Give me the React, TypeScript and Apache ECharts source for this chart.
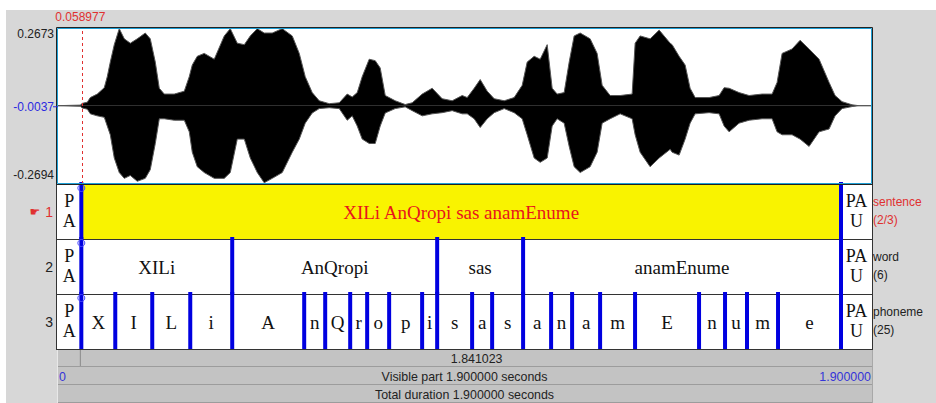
import React, { useEffect, useRef } from "react";
import * as echarts from "echarts";

const TOTAL = 1.9;
const CURSOR = 0.058977;
const AMP_MIN = -0.2694;
const AMP_MAX = 0.2673;
const AMP_TICKS = [0.2673, -0.0037, -0.2694];
const AMP_TICK_LABELS = ["0.2673", "-0.0037", "-0.2694"];

// waveform envelope (seconds, upper amplitude, lower amplitude)
const envTime = [
  0, 0.0566, 0.0613, 0.0729, 0.0799, 0.0961, 0.1124, 0.1194, 0.1264, 0.1357, 0.1473, 0.159, 0.173, 0.1892,
  0.2079, 0.2195, 0.2312, 0.2405, 0.2521, 0.2754, 0.2987, 0.3103, 0.3173, 0.3289, 0.3452, 0.3685, 0.3918,
  0.4058, 0.4221, 0.4384, 0.4524, 0.4687, 0.4848, 0.5035, 0.5268, 0.5501, 0.5664, 0.5803, 0.5966, 0.6129,
  0.6362, 0.6595, 0.6781, 0.6897, 0.7014, 0.713, 0.7293, 0.7433, 0.7549, 0.7666, 0.7898, 0.8131, 0.8294,
  0.8527, 0.8759, 0.8992, 0.9225, 0.9458, 0.9575, 0.9737, 0.9877, 1.004, 1.0203, 1.0436, 1.0668, 1.0855,
  1.0971, 1.1134, 1.1274, 1.1437, 1.1553, 1.1669, 1.1832, 1.1949, 1.2065, 1.2205, 1.2437, 1.26, 1.2717,
  1.2903, 1.3136, 1.3415, 1.3485, 1.3601, 1.3834, 1.4044, 1.43, 1.4346, 1.4509, 1.4649, 1.4765, 1.4882,
  1.5208, 1.544, 1.5557, 1.5673, 1.5906, 1.6139, 1.6441, 1.6674, 1.679, 1.6907, 1.7139, 1.7326, 1.7535,
  1.7768, 1.8001, 1.814, 1.8303, 1.8536, 1.8699, 1.9,
];
const envUpper = [
  0, 0.002, 0.008, 0.012, 0.028, 0.04, 0.062, 0.1, 0.15, 0.21, 0.265, 0.23, 0.215, 0.23,
  0.25, 0.23, 0.15, 0.06, 0.04, 0.04, 0.05, 0.1, 0.14, 0.17, 0.18, 0.16, 0.24,
  0.265, 0.215, 0.21, 0.24, 0.265, 0.25, 0.25, 0.265, 0.24, 0.18, 0.1, 0.045, 0.017,
  0.007, 0.01, 0.04, 0.03, 0.045, 0.1, 0.16, 0.155, 0.13, 0.035, 0.017, 0.004, 0.01,
  0.04, 0.06, 0.024, 0.017, 0.035, 0.028, 0.06, 0.09, 0.05, 0.024, 0.017, 0.028, 0.07,
  0.15, 0.17, 0.16, 0.21, 0.06, 0.04, 0.045, 0.15, 0.24, 0.25, 0.23, 0.18, 0.07,
  0.035, 0.035, 0.04, 0.215, 0.24, 0.23, 0.26, 0.215, 0.21, 0.17, 0.14, 0.06, 0.028,
  0.028, 0.035, 0.062, 0.06, 0.045, 0.035, 0.04, 0.04, 0.08, 0.18, 0.195, 0.225, 0.195,
  0.16, 0.08, 0.035, 0.014, 0.003, 0, 0,
];
const envLower = [
  0, -0.002, -0.008, -0.012, -0.028, -0.035, -0.04, -0.07, -0.1, -0.18, -0.23, -0.25, -0.24, -0.26,
  -0.25, -0.22, -0.13, -0.045, -0.045, -0.05, -0.05, -0.09, -0.16, -0.21, -0.23, -0.25, -0.25,
  -0.23, -0.115, -0.115, -0.18, -0.23, -0.265, -0.25, -0.23, -0.16, -0.115, -0.06, -0.025, -0.01,
  -0.007, -0.01, -0.05, -0.035, -0.07, -0.115, -0.13, -0.13, -0.07, -0.025, -0.01, -0.004, -0.017,
  -0.035, -0.028, -0.024, -0.017, -0.028, -0.028, -0.045, -0.075, -0.045, -0.024, -0.01, -0.024, -0.045,
  -0.1, -0.18, -0.195, -0.18, -0.07, -0.045, -0.06, -0.14, -0.21, -0.23, -0.21, -0.16, -0.06,
  -0.045, -0.028, -0.045, -0.1, -0.16, -0.21, -0.18, -0.15, -0.16, -0.17, -0.115, -0.06, -0.028,
  -0.024, -0.028, -0.07, -0.09, -0.06, -0.05, -0.045, -0.045, -0.09, -0.1, -0.1, -0.115, -0.14,
  -0.09, -0.08, -0.035, -0.01, -0.003, 0, 0,
];

const tierNames = ["sentence", "word", "phoneme"];
const tierNumbers = ["1", "2", "3"];
const sentenceBounds = [0, 0.058977, 1.8278, 1.9];
const sentenceLabels = ["PAU", "XILi AnQropi sas anamEnume", "PAU"];
const wordBounds = [0, 0.058977, 0.4103, 0.8875, 1.0876, 1.8278, 1.9];
const wordLabels = ["PAU", "XILi", "AnQropi", "sas", "anamEnume", "PAU"];
const phonemeBounds = [
  0, 0.058977, 0.138, 0.2241, 0.3126, 0.4103, 0.5779, 0.6268, 0.685, 0.7245, 0.7757, 0.8525, 0.8875,
  0.9689, 1.0155, 1.0876, 1.1528, 1.2017, 1.2669, 1.3483, 1.4973, 1.5578, 1.609, 1.6812, 1.8278, 1.9,
];
const phonemeLabels = [
  "PAU", "X", "I", "L", "i", "A", "n", "Q", "r", "o", "p", "i", "s", "a", "s", "a", "n", "a", "m", "E",
  "n", "u", "m", "e", "PAU",
];
const SELECTED_TIER = 0;
const SELECTED_INTERVAL = 1;

const SANS = "'Liberation Sans', Arial, sans-serif";
const SERIF = "'Liberation Serif', 'Times New Roman', serif";
const LABEL_SIZE = 19;

const L = 57;
const R = 872;

let measureCtx: CanvasRenderingContext2D | null = null;
function textW(s: string): number {
  if (!measureCtx) measureCtx = document.createElement("canvas").getContext("2d");
  measureCtx!.font = `${LABEL_SIZE}px 'Liberation Serif'`;
  return measureCtx!.measureText(s).width;
}
function wrap(s: string, avail: number): string[] {
  if (textW(s) <= avail) return [s];
  const lines: string[] = [];
  let cur = "";
  for (const ch of s) {
    if (cur && textW(cur + ch) > avail) {
      lines.push(cur);
      cur = ch;
    } else cur += ch;
  }
  if (cur) lines.push(cur);
  return lines.slice(0, 2);
}

export default function App() {
  const ref = useRef<HTMLDivElement>(null);
  useEffect(() => {
    document.body.style.margin = "0";
    const chart = echarts.init(ref.current!, undefined, { renderer: "svg" });

    const tiers = [
      { bounds: sentenceBounds, labels: sentenceLabels },
      { bounds: wordBounds, labels: wordLabels },
      { bounds: phonemeBounds, labels: phonemeLabels },
    ];
    const intervalData: number[][] = [];
    const boundaryData: number[][] = [];
    tiers.forEach((tr, ti) => {
      tr.labels.forEach((_, i) => intervalData.push([tr.bounds[i], tr.bounds[i + 1], ti, i]));
      tr.bounds.slice(1, -1).forEach((b) => boundaryData.push([b, ti]));
    });

    const option: any = {
      animation: false,
      grid: [
        { left: 56, top: 28, width: 816, height: 156 },
        { left: 56, top: 184, width: 816, height: 165 },
      ],
      xAxis: [
        { gridIndex: 0, type: "value", min: 0, max: TOTAL, show: false },
        { gridIndex: 1, type: "value", min: 0, max: TOTAL, show: false },
      ],
      yAxis: [
        { gridIndex: 0, type: "value", min: AMP_MIN, max: AMP_MAX, show: false },
        { gridIndex: 1, type: "value", min: 0, max: 3, inverse: true, show: false },
      ],
      series: [
        {
          type: "line",
          xAxisIndex: 0,
          yAxisIndex: 0,
          data: envTime.map((t, i) => [t, envUpper[i]]),
          showSymbol: false,
          silent: true,
          lineStyle: { color: "#555", width: 1 },
          areaStyle: { color: "#000", opacity: 1 },
          z: 2,
          markLine: {
            silent: true,
            symbol: ["none", "none"],
            label: { show: false },
            lineStyle: { color: "#e03030", type: [3, 3], width: 1 },
            data: [{ xAxis: CURSOR }],
          },
        },
        {
          type: "line",
          xAxisIndex: 0,
          yAxisIndex: 0,
          data: envTime.map((t, i) => [t, envLower[i]]),
          showSymbol: false,
          silent: true,
          lineStyle: { color: "#555", width: 1 },
          areaStyle: { color: "#000", opacity: 1 },
          z: 2,
        },
        {
          type: "custom",
          xAxisIndex: 1,
          yAxisIndex: 1,
          data: intervalData,
          silent: true,
          z: 3,
          renderItem: (params: any, api: any) => {
            const s = api.value(0);
            const e = api.value(1);
            const tier = api.value(2);
            const idx = api.value(3);
            const p0 = api.coord([s, tier]);
            const p1 = api.coord([e, tier + 1]);
            const x0 = Math.max(p0[0], L);
            const x1 = Math.min(p1[0], R);
            const sel = tier === SELECTED_TIER && idx === SELECTED_INTERVAL;
            const label = tiers[tier].labels[idx];
            const lines = wrap(label, x1 - x0 - 4);
            const multi = lines.length > 1;
            const cx = (x0 + x1) / 2;
            const cy = (p0[1] + p1[1]) / 2;
            const children: any[] = [];
            if (sel) {
              children.push({
                type: "rect",
                shape: { x: x0, y: p0[1] + 1, width: x1 - x0, height: p1[1] - p0[1] - 1 },
                style: { fill: "#f9f300" },
              });
            }
            children.push({
              type: "text",
              style: {
                text: lines.join("\n"),
                x: cx,
                y: cy - (multi ? 1 : -0.5),
                align: "center",
                verticalAlign: "middle",
                lineHeight: multi ? 20 : 20,
                fill: sel ? "#e8141c" : "#111",
                fontSize: multi ? 18 : LABEL_SIZE,
                fontFamily: SERIF,
              },
            });
            return { type: "group", children };
          },
        },
        {
          type: "custom",
          xAxisIndex: 1,
          yAxisIndex: 1,
          data: boundaryData,
          silent: true,
          z: 4,
          renderItem: (params: any, api: any) => {
            const t = api.value(0);
            const tier = api.value(1);
            const p0 = api.coord([t, tier]);
            const p1 = api.coord([t, tier + 1]);
            const children: any[] = [
              {
                type: "line",
                shape: { x1: p0[0], y1: p0[1] - 2, x2: p0[0], y2: p1[1] },
                style: { stroke: "#0000e0", lineWidth: 4 },
              },
            ];
            if (Math.abs(t - CURSOR) < 1e-9) {
              children.push({
                type: "circle",
                shape: { cx: p0[0], cy: p0[1] + 4, r: 3.5 },
                style: { fill: "none", stroke: "#4a4aff", lineWidth: 1 },
              });
            }
            return { type: "group", children };
          },
        },
      ],
    };
    chart.setOption(option);

    const toPx = (g: number, v: number[]) => chart.convertToPixel({ gridIndex: g }, v) as number[];
    const curX = toPx(0, [CURSOR, 0])[0];
    const els: any[] = [];
    // backgrounds
    els.push({ type: "rect", z: -20, shape: { x: 6, y: 10, width: 930, height: 393 }, style: { fill: "#d7d7d7" } });
    els.push({ type: "rect", z: -10, shape: { x: L, y: 28, width: R - L, height: 156 }, style: { fill: "#fff" } });
    els.push({ type: "rect", z: -10, shape: { x: L, y: 184, width: R - L, height: 165 }, style: { fill: "#fff" } });
    // waveform frame
    els.push({ type: "rect", z: 10, shape: { x: L - 0.5, y: 27.5, width: R - L + 1, height: 157 }, style: { fill: "none", stroke: "#222", lineWidth: 1 } });
    els.push({ type: "rect", z: 10, shape: { x: L + 0.5, y: 28.5, width: R - L - 1, height: 155 }, style: { fill: "none", stroke: "#1ea0d6", lineWidth: 1 } });
    // tier frame
    [239.5, 294.5, 349.5].forEach((y) =>
      els.push({ type: "line", z: 1, shape: { x1: L, y1: y, x2: R, y2: y }, style: { stroke: "#333", lineWidth: 1 } })
    );
    els.push({ type: "line", z: 1, shape: { x1: L - 0.5, y1: 184, x2: L - 0.5, y2: 350 }, style: { stroke: "#333", lineWidth: 1 } });
    els.push({ type: "line", z: 1, shape: { x1: R + 0.5, y1: 184, x2: R + 0.5, y2: 350 }, style: { stroke: "#333", lineWidth: 1 } });

    // amplitude tick labels
    AMP_TICKS.forEach((v, i) => {
      const y = toPx(0, [0, v])[1];
      const isMid = i === 1;
      els.push({
        type: "text",
        z: 10,
        style: {
          text: AMP_TICK_LABELS[i],
          x: 54,
          y: i === 0 ? y : i === 2 ? y - 3 : y,
          align: "right",
          verticalAlign: i === 0 ? "top" : i === 2 ? "bottom" : "middle",
          fill: isMid ? "#2a2ae0" : "#222",
          fontSize: 12,
          fontFamily: SANS,
        },
      });
      if (isMid) {
        els.push({ type: "line", z: 10, shape: { x1: 53, y1: y, x2: 58, y2: y }, style: { stroke: "#2a2ae0", lineWidth: 1 } });
      }
    });
    // cursor label
    els.push({
      type: "text",
      z: 10,
      style: { text: CURSOR.toFixed(6), x: curX - 1, y: 23, align: "center", verticalAlign: "bottom", fill: "#e03030", fontSize: 12, fontFamily: SANS },
    });

    // tier numbers and names
    tierNames.forEach((name, ti) => {
      const cy = toPx(1, [0, ti + 0.5])[1];
      const red = ti === SELECTED_TIER;
      els.push({
        type: "text",
        z: 10,
        style: { text: tierNumbers[ti], x: 53, y: cy, align: "right", verticalAlign: "middle", fill: red ? "#e03030" : "#222", fontSize: 14, fontFamily: SANS },
      });
      if (red) {
        els.push({
          type: "text",
          z: 10,
          style: { text: "\u261B", x: 35, y: cy, align: "center", verticalAlign: "middle", fill: "#e03030", fontSize: 12, fontFamily: "'DejaVu Sans'" },
        });
      }
      const count = tiers[ti].labels.length;
      const sub = red ? `(${SELECTED_INTERVAL + 1}/${count})` : `(${count})`;
      els.push({
        type: "text",
        z: 10,
        style: { text: name + "\n" + sub, x: 873, y: cy - 1, align: "left", verticalAlign: "middle", lineHeight: 18, fill: red ? "#e03030" : "#222", fontSize: 12, fontFamily: SANS },
      });
    });

    // bottom rows
    const rows = [
      [350, 367],
      [367, 385],
      [385, 403],
    ];
    rows.forEach(([y0, y1]) => {
      els.push({ type: "rect", z: 0, shape: { x: L, y: y0, width: R - L, height: y1 - y0 }, style: { fill: "#c3c3c3" } });
      els.push({ type: "line", z: 0, shape: { x1: L, y1: y1 - 0.5, x2: R, y2: y1 - 0.5 }, style: { stroke: "#9c9c9c", lineWidth: 1 } });
      els.push({ type: "line", z: 0, shape: { x1: L + 0.5, y1: y0, x2: L + 0.5, y2: y1 }, style: { stroke: "#e8e8e8", lineWidth: 1 } });
      els.push({ type: "line", z: 0, shape: { x1: R + 0.5, y1: y0, x2: R + 0.5, y2: y1 }, style: { stroke: "#a8a8a8", lineWidth: 1 } });
    });
    els.push({ type: "line", z: 1, shape: { x1: curX - 1, y1: 350, x2: curX - 1, y2: 366 }, style: { stroke: "#8a8a8a", lineWidth: 1 } });
    const rowText = (text: string, x: number, y: number, align: string, fill: string) =>
      els.push({ type: "text", z: 2, style: { text, x, y, align, verticalAlign: "middle", fill, fontSize: 12.4, fontFamily: SANS } });
    rowText((TOTAL - CURSOR).toFixed(6), (curX + R) / 2, 358.5, "center", "#222");
    rowText("0", 59, 376.5, "left", "#3434d8");
    rowText(TOTAL.toFixed(6), 871, 376.5, "right", "#3434d8");
    rowText(`Visible part ${TOTAL.toFixed(6)} seconds`, (L + R) / 2, 376.5, "center", "#222");
    rowText(`Total duration ${TOTAL.toFixed(6)} seconds`, (L + R) / 2, 395, "center", "#222");

    chart.setOption({ graphic: { elements: els } });
    return () => chart.dispose();
  }, []);
  return <div ref={ref} style={{ width: 936, height: 403, background: "#fff" }} />;
}
